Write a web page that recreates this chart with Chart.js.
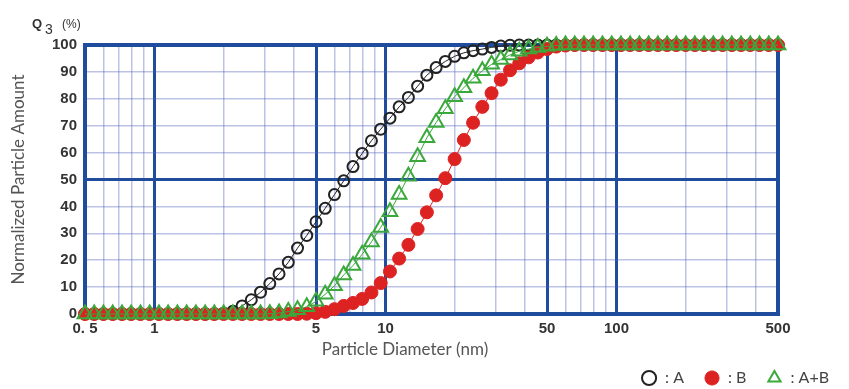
<!DOCTYPE html>
<html>
<head>
<meta charset="utf-8">
<script src="https://cdn.jsdelivr.net/npm/chart.js@4.4.1/dist/chart.umd.min.js"></script>
<style>
  html, body { margin: 0; padding: 0; background: #fff; }
</style>
</head>
<body>
<canvas id="chart" width="849" height="389"></canvas>
<script>
// particle diameter (nm), shared by all three series
const diameters = [
  0.5, 0.548, 0.601, 0.659, 0.723, 0.792, 0.869, 0.953, 1.045, 1.145,
  1.256, 1.377, 1.51, 1.656, 1.815, 1.991, 2.183, 2.393, 2.624, 2.877,
  3.155, 3.459, 3.793, 4.159, 4.56, 5.0, 5.48, 6.01, 6.59, 7.23,
  7.92, 8.69, 9.53, 10.45, 11.45, 12.56, 13.77, 15.1, 16.56, 18.15,
  19.91, 21.83, 23.93, 26.24, 28.77, 31.55, 34.59, 37.93, 41.59, 45.6,
  50, 54.8, 60.1, 65.9, 72.3, 79.2, 86.9, 95.3, 104.5, 114.5,
  125.6, 137.7, 151, 165.6, 181.5, 199.1, 218.3, 239.3, 262.4, 287.7,
  315.5, 345.9, 379.3, 415.9, 456, 500
];

// Q3 (%) cumulative values
const seriesA = [
  0, 0, 0, 0, 0, 0, 0, 0, 0, 0,
  0, 0, 0, 0, 0, 0.3, 1.0, 3.0, 5.3, 8.1,
  11.3, 14.9, 19.2, 24.5, 29.2, 34.3, 39.3, 44.4, 49.5, 54.8,
  59.7, 64.4, 68.7, 72.8, 77.0, 80.5, 84.7, 88.8, 91.6, 93.9,
  95.8, 97.1, 97.9, 98.5, 99.1, 99.6, 99.9, 100, 100, 100,
  100, 100, 100, 100, 100, 100, 100, 100, 100, 100,
  100, 100, 100, 100, 100, 100, 100, 100, 100, 100,
  100, 100, 100, 100, 100, 100
];
const seriesB = [
  0, 0, 0, 0, 0, 0, 0, 0, 0, 0,
  0, 0, 0, 0, 0, 0, 0, 0, 0, 0,
  0, 0, 0, 0, 0.1, 0.3, 0.8, 1.8, 3.0, 4.1,
  5.6, 8.0, 11.5, 15.8, 20.6, 25.7, 31.6, 37.8, 44.1, 50.5,
  57.6, 64.7, 71.1, 77.0, 82.1, 87.1, 90.6, 93.2, 95.4, 97.2,
  98.5, 99.4, 99.8, 100, 100, 100, 100, 100, 100, 100,
  100, 100, 100, 100, 100, 100, 100, 100, 100, 100,
  100, 100, 100, 100, 100, 100
];
const seriesAB = [
  0, 0, 0, 0, 0, 0, 0, 0, 0, 0,
  0, 0, 0, 0, 0, 0, 0, 0, 0, 0,
  0.1, 0.4, 0.9, 1.6, 2.7, 4.7, 7.3, 10.5, 14.5, 18.0,
  22.2, 26.8, 32.2, 38.0, 44.4, 51.2, 58.5, 65.5, 71.2, 76.3,
  80.8, 84.1, 87.6, 90.4, 92.8, 94.6, 96.3, 97.7, 98.5, 99.1,
  99.5, 99.8, 100, 100, 100, 100, 100, 100, 100, 100,
  100, 100, 100, 100, 100, 100, 100, 100, 100, 100,
  100, 100, 100, 100, 100, 100
];

// log axis grid positions and labels
const xTickValues = [0.5, 0.6, 0.7, 0.8, 0.9, 1, 2, 3, 4, 5, 6, 7, 8, 9,
  10, 20, 30, 40, 50, 60, 70, 80, 90, 100, 200, 300, 400, 500];
const xTickLabels = { 0.5: '0. 5', 1: '1', 5: '5', 10: '10', 50: '50', 100: '100', 500: '500' };
const xMajor = [1, 5, 10, 50, 100];

const BLUE = '#1f4c9c';
const MINOR = 'rgba(80, 95, 185, 0.38)';
const TICK_FONT = { family: 'Liberation Sans', size: 15, weight: 'bold' };

function toPoints(vals) {
  return diameters.map((d, i) => ({ x: d, y: vals[i] }));
}

// thick frame round the plot area
const framePlugin = {
  id: 'frame',
  beforeDatasetsDraw(chart) {
    const { ctx, chartArea: a } = chart;
    ctx.save();
    ctx.strokeStyle = BLUE;
    ctx.lineWidth = 4;
    ctx.strokeRect(a.left, a.top, a.right - a.left, a.bottom - a.top);
    ctx.restore();
  }
};

// Q3 (%) label and x title
const textPlugin = {
  id: 'texts',
  afterDraw(chart) {
    const ctx = chart.ctx;
    ctx.save();
    ctx.fillStyle = '#333';
    ctx.textBaseline = 'alphabetic';
    ctx.textAlign = 'left';
    ctx.font = 'bold 13px "Liberation Sans"';
    ctx.fillText('Q', 32, 28);
    ctx.font = '14px "Liberation Sans"';
    ctx.fillText('3', 45, 34);
    ctx.font = '12px "Liberation Sans"';
    ctx.fillText('(%)', 62, 28);
    ctx.fillStyle = '#555';
    ctx.textAlign = 'center';
    ctx.font = '17px Lato';
    ctx.fillText('Particle Diameter (nm)', 405, 355);
    ctx.restore();
  }
};

new Chart(document.getElementById('chart'), {
  type: 'line',
  data: {
    datasets: [
      {
        label: 'A',
        data: toPoints(seriesA),
        order: 3,
        borderColor: '#222',
        borderWidth: 1,
        pointStyle: 'circle',
        pointRadius: 5.5,
        pointBorderWidth: 2,
        pointBorderColor: '#222',
        pointBackgroundColor: 'rgba(255,255,255,0)',
        clip: false
      },
      {
        label: 'B',
        data: toPoints(seriesB),
        order: 2,
        borderColor: '#dd2222',
        borderWidth: 1,
        pointStyle: 'circle',
        pointRadius: 6.5,
        pointBorderWidth: 1,
        pointBorderColor: '#dd2222',
        pointBackgroundColor: '#dd2222',
        clip: false
      },
      {
        label: 'A+B',
        data: toPoints(seriesAB),
        order: 1,
        borderColor: '#3aa83a',
        borderWidth: 1,
        pointStyle: 'triangle',
        pointRadius: 8.5,
        pointBorderWidth: 2,
        pointBorderColor: '#3aa83a',
        pointBackgroundColor: 'rgba(255,255,255,0)',
        clip: false
      }
    ]
  },
  options: {
    responsive: false,
    animation: false,
    layout: { padding: { top: 45, left: 0, right: 0, bottom: 0 } },
    plugins: {
      tooltip: { enabled: false },
      legend: {
        position: 'bottom',
        align: 'end',
        maxHeight: 39,
        labels: {
          usePointStyle: true,
          boxHeight: 10,
          padding: 20,
          color: '#444',
          font: { family: 'Lato', size: 16 },
          sort: (a, b) => a.datasetIndex - b.datasetIndex,
          generateLabels: chart =>
            Chart.defaults.plugins.legend.labels.generateLabels(chart)
              .map(l => ({ ...l, text: ': ' + l.text }))
        }
      }
    },
    scales: {
      x: {
        type: 'logarithmic',
        min: 0.5,
        max: 500,
        afterBuildTicks: s => { s.ticks = xTickValues.map(v => ({ value: v })); },
        afterFit: s => { s.height = 36; },
        border: { display: false },
        grid: {
          drawTicks: false,
          color: c => {
            const v = c.tick ? c.tick.value : 0;
            return (xMajor.includes(v) || v === 0.5 || v === 500) ? BLUE : MINOR;
          },
          lineWidth: c => {
            const v = c.tick ? c.tick.value : 0;
            if (v === 0.5 || v === 500) return 4;
            return xMajor.includes(v) ? 3 : 1.5;
          }
        },
        ticks: {
          autoSkip: false,
          maxRotation: 0,
          padding: 6,
          color: '#333',
          font: TICK_FONT,
          callback: v => xTickLabels[v] || ''
        }
      },
      y: {
        min: 0,
        max: 100,
        afterFit: s => { s.width = 85; },
        border: { display: false },
        grid: {
          drawTicks: false,
          color: c => {
            const v = c.tick ? c.tick.value : 0;
            return (v === 0 || v === 50 || v === 100) ? BLUE : MINOR;
          },
          lineWidth: c => {
            const v = c.tick ? c.tick.value : 0;
            if (v === 0 || v === 100) return 4;
            return v === 50 ? 3 : 1.5;
          }
        },
        ticks: { stepSize: 10, padding: 8, color: '#333', font: TICK_FONT },
        title: {
          display: true,
          text: 'Normalized Particle Amount',
          color: '#555',
          font: { family: 'Lato', size: 17 },
          padding: { top: 8, bottom: 0 }
        }
      },
      // empty right-hand space
      yRight: {
        type: 'linear',
        axis: 'y',
        position: 'right',
        afterFit: s => { s.width = 71; },
        border: { display: false },
        grid: { display: false },
        ticks: { display: false }
      }
    }
  },
  plugins: [framePlugin, textPlugin]
});
</script>
</body>
</html>
